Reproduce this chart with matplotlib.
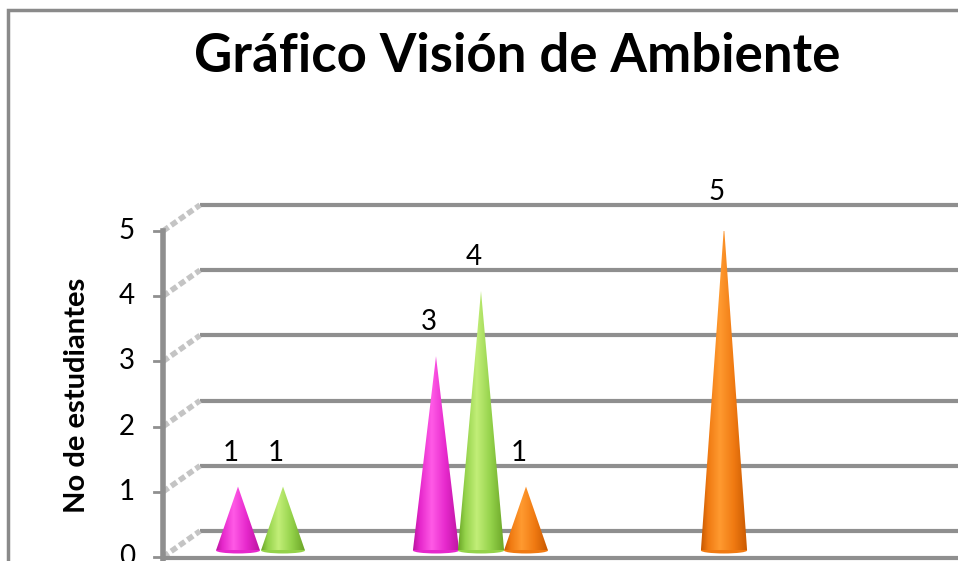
import numpy as np
import matplotlib
matplotlib.use("Agg")
import matplotlib.pyplot as plt
from matplotlib.colors import LinearSegmentedColormap
from matplotlib.patches import Polygon, Ellipse, Rectangle

# Respuestas por grupo (tres series por grupo)
grupos = ["Grupo 1", "Grupo 2", "Grupo 3"]
serie_rosa = [1, 3, 0]
serie_verde = [1, 4, 0]
serie_naranja = [0, 1, 5]

series = [serie_rosa, serie_verde, serie_naranja]
# (oscuro, claro, medio) para el sombreado de cada cono
colores = [
    ("#bc14a0", "#ff5ae6", "#e628cc"),
    ("#6aa426", "#c2ee78", "#94d24a"),
    ("#c85800", "#ff9a30", "#f07a12"),
]

W, H = 958, 561
fig = plt.figure(figsize=(W / 100, H / 100), dpi=100)
fig.patch.set_facecolor("white")

# marco exterior del grafico
fig.add_artist(Rectangle((8 / W, -0.1), 1.2, (H - 10) / H + 0.1,
                         transform=fig.transFigure, fill=False,
                         edgecolor="#8a8a8a", linewidth=2.5))

# area de trazado: eje de valores en x=163px, 0 en y=557px, 5 en y=231px
left, bottom, top = 163, 557, 231
ax = fig.add_axes([left / W, (H - bottom) / H, (W - left + 40) / W, (bottom - top) / H])

px_x = 198.0                      # pixeles por categoria
px_y = (bottom - top) / 5.0       # pixeles por unidad
x0 = -(283 - left) / px_x
x1 = x0 + (W - left + 40) / px_x
ax.set_xlim(x0, x1)
ax.set_ylim(0, 5)
ax.axis("off")

# desplazamiento de la pared del fondo (efecto 3D)
DX = 37 / px_x
DY = 26 / px_y
grid_col = "#8f8f8f"
for v in range(0, 6):
    ax.plot([x0 + DX, x1 + 1], [v + DY, v + DY], color=grid_col,
            linewidth=3, solid_capstyle="butt", clip_on=False, zorder=1)
    ax.plot([x0, x0 + DX], [v, v + DY], color="#c4c4c4", linewidth=4,
            linestyle=(0, (1.2, 0.6)), solid_capstyle="butt", clip_on=False, zorder=1)
    # marcas del eje
    ax.plot([x0 - 9 / px_x, x0], [v, v], color=grid_col, linewidth=2,
            clip_on=False, zorder=3)
    ax.text(x0 - 28 / px_x, v, str(v), ha="right", va="center",
            fontsize=20, fontfamily="Lato", color="black", clip_on=False)

# eje vertical y borde frontal del piso
ax.plot([x0, x0], [-0.2, 5], color=grid_col, linewidth=4, clip_on=False, zorder=3)
ax.plot([x0, x1 + 1], [-0.02, -0.02], color=grid_col, linewidth=3, clip_on=False, zorder=3)

ancho = 45 / px_x
hw = 22 / px_x
base = 0.1
grad = np.linspace(0, 1, 200)[None, :]

for s, (vals, (oscuro, claro, medio)) in enumerate(zip(series, colores)):
    cmap = LinearSegmentedColormap.from_list(
        f"cono{s}", [(0, oscuro), (0.15, medio), (0.4, claro), (0.7, medio), (1, oscuro)])
    for g, v in enumerate(vals):
        if v == 0:
            continue
        cx = g + (s - 1) * ancho
        tip = v + 0.08
        w = hw * (1.05 if v >= 3 else 1.0)
        ax.add_patch(Ellipse((cx, base), 2 * w, 6 / px_y, facecolor=medio,
                             edgecolor="none", zorder=4))
        tri = Polygon([(cx - w, base), (cx + w, base), (cx, tip)], closed=True,
                      facecolor="none", edgecolor="none", zorder=5)
        ax.add_patch(tri)
        im = ax.imshow(grad, cmap=cmap, extent=(cx - w, cx + w, base, tip),
                       aspect="auto", zorder=5, interpolation="bilinear")
        im.set_clip_path(tri)
        ax.text(cx - 7 / px_x, v + 0.6, str(v), ha="center", va="center",
                fontsize=20, fontfamily="Lato", color="black", clip_on=False)

ax.set_xlim(x0, x1)
ax.set_ylim(0, 5)

fig.text(517 / W, 1 - 56 / H, "Gráfico Visión de Ambiente", ha="center", va="center",
         fontsize=38, fontweight="bold", fontfamily="Lato")
fig.text(77 / W, 1 - 395 / H, "No de estudiantes", ha="center", va="center",
         rotation=90, fontsize=21, fontweight="bold", fontfamily="Lato")

fig.savefig("out.png", dpi=100)
